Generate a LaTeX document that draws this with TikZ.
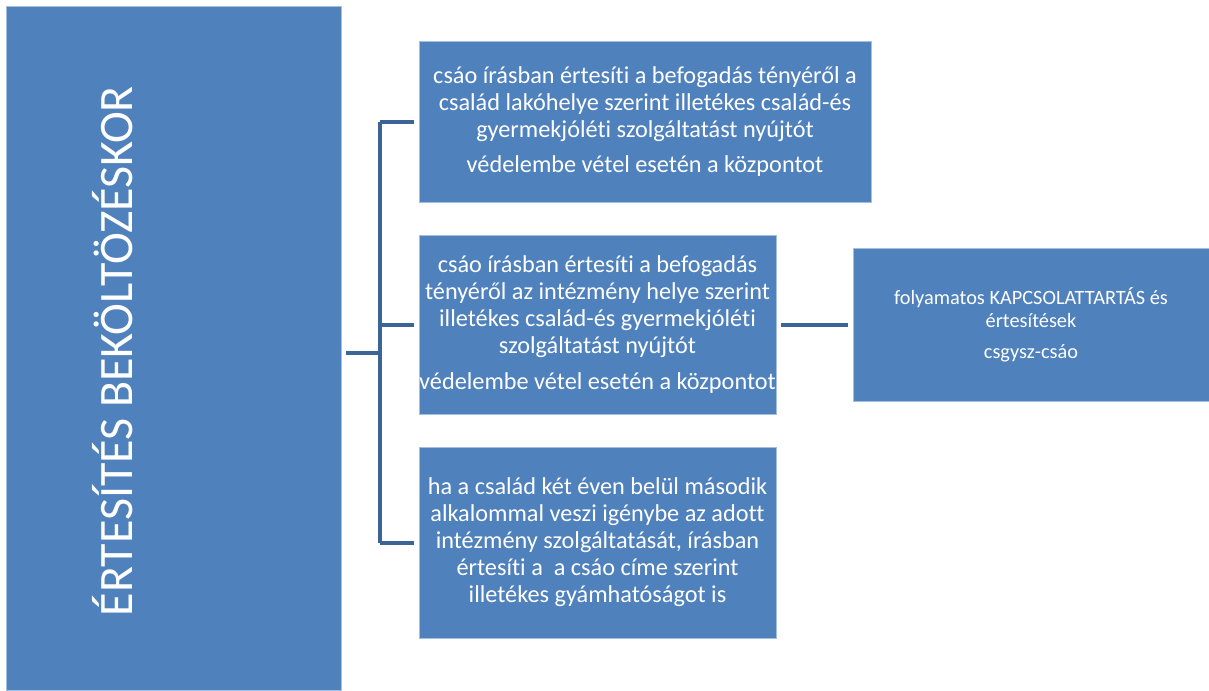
\documentclass[tikz,border=0pt]{standalone}
\usepackage{fontspec}
\setmainfont{Carlito}[Ligatures={NoCommon}]
\usetikzlibrary{calc}

\definecolor{boxblue}{RGB}{79,129,189}
\definecolor{boxedge}{RGB}{167,191,222}
\definecolor{linkblue}{RGB}{60,100,150}

\newcommand{\boxfont}{\fontsize{18.2}{20.25}\selectfont}
\newcommand{\smallboxfont}{\fontsize{15.25}{17.25}\selectfont}

\begin{document}
\begin{tikzpicture}[x=0.75pt,y=0.75pt,yscale=-1,xscale=1,
  infobox/.style={rectangle, fill=boxblue, draw=boxedge, line width=0.5pt, text=white, align=center, inner sep=0pt},
  link/.style={draw=linkblue, line width=3pt, line join=round}]
\useasboundingbox (0,0) rectangle (1209,690);

%Big left box
\node [infobox, minimum width=251.25pt, minimum height=513pt] (big) at (173.5,348) {};
% Title Node
\node [text=white, rotate=90, font=\fontsize{36}{42}\selectfont] (title) at (113,351) {ÉRTESÍTÉS BEKÖLTÖZÉSKOR};

% Text Nodes
\node [infobox, minimum width=339pt, minimum height=120.75pt, font=\boxfont] (first) at (645,121.5) {csáo írásban értesíti a befogadás tényéről a\\család lakóhelye szerint illetékes család-és\\gyermekjóléti szolgáltatást nyújtót\\[6pt]védelembe vétel esetén a központot};
\node [infobox, minimum width=267.75pt, minimum height=134.25pt, font=\boxfont] (second) at (597.5,324.5) {csáo írásban értesíti a befogadás\\tényéről az intézmény helye szerint\\illetékes család-és gyermekjóléti\\szolgáltatást nyújtót\\[7pt]védelembe vétel esetén a központot};
\node [infobox, minimum width=267.75pt, minimum height=143.25pt, font=\boxfont] (third) at (597.5,542.5) {ha a család két éven belül második\\alkalommal veszi igénybe az adott\\intézmény szolgáltatását, írásban\\értesíti a \ a csáo címe szerint\\illetékes gyámhatóságot is};
\node [infobox, minimum width=267pt, minimum height=114.75pt, font=\smallboxfont] (contact) at (1031,324.5) {folyamatos KAPCSOLATTARTÁS és\\értesítések\\[6pt]csgysz-csáo};

%Bracket
\coordinate (stub) at (346,353);
\coordinate (fork) at (380,353);
\draw [link] (stub) -- (fork);
\draw [link] (fork |- first) -- (fork |- third);
\draw [link, shorten >=3.75pt] (fork |- first) -- (first.west);
\draw [link, shorten >=3.75pt] (fork |- second) -- (second.west);
\draw [link, shorten >=3.75pt] (fork |- third) -- (third.west);
%Straight Lines
\draw [link, shorten <=3.75pt, shorten >=3.75pt] (second.east) -- (contact.west);
\end{tikzpicture}
\end{document}
